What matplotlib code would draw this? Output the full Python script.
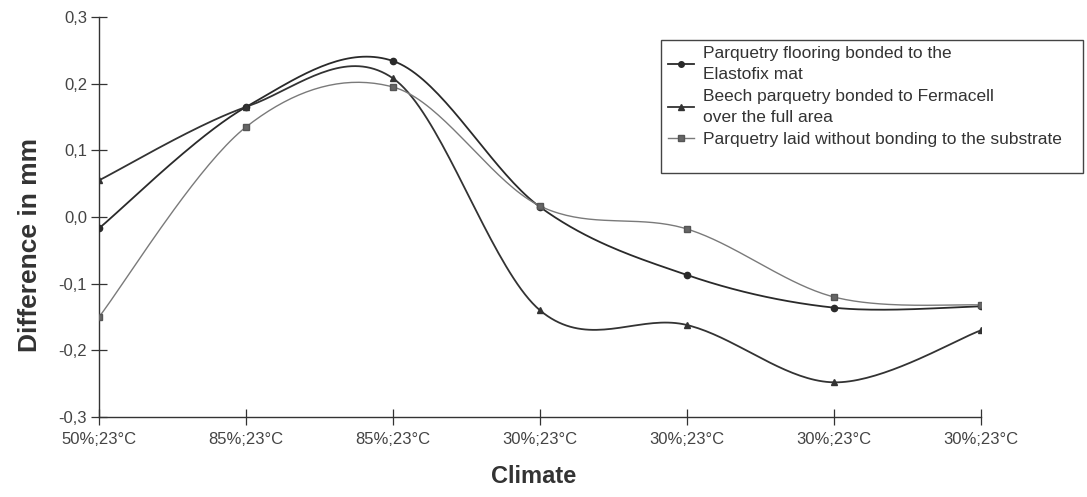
import numpy as np
import matplotlib
matplotlib.use("Agg")
import matplotlib.pyplot as plt
from matplotlib.patches import Rectangle

categories = ["50%;23°C", "85%;23°C", "85%;23°C", "30%;23°C", "30%;23°C", "30%;23°C", "30%;23°C"]
elastofix = [-0.017, 0.165, 0.234, 0.015, -0.087, -0.136, -0.134]
fermacell = [0.055, 0.165, 0.208, -0.14, -0.162, -0.248, -0.17]
unbonded = [-0.15, 0.135, 0.195, 0.0165, -0.018, -0.12, -0.132]
labels = ["Parquetry flooring bonded to the\nElastofix mat",
          "Beech parquetry bonded to Fermacell\nover the full area",
          "Parquetry laid without bonding to the substrate"]
yticks = [-0.3, -0.2, -0.1, 0.0, 0.1, 0.2, 0.3]

plt.rcParams['font.family'] = ['Liberation Sans', 'DejaVu Sans']


def smooth(xs, ys, n=40):
    # Excel-style smoothed line (Bezier with Catmull-Rom control points)
    P = np.column_stack([xs, ys]).astype(float)
    out = []
    m = len(P)
    for i in range(m - 1):
        p0 = P[i - 1] if i > 0 else P[i]
        p1 = P[i]
        p2 = P[i + 1]
        p3 = P[i + 2] if i + 2 < m else P[i + 1]
        c1 = p1 + (p2 - p0) / 6.0
        c2 = p2 - (p3 - p1) / 6.0
        t = np.linspace(0, 1, n)[:, None]
        seg = ((1 - t) ** 3) * p1 + 3 * ((1 - t) ** 2) * t * c1 + 3 * (1 - t) * t ** 2 * c2 + t ** 3 * p2
        out.append(seg if i == 0 else seg[1:])
    s = np.vstack(out)
    return s[:, 0], s[:, 1]


W, H = 1087, 497
fig = plt.figure(figsize=(W / 100, H / 100), dpi=100)
ax = fig.add_axes([99 / W, 1 - 417 / H, (981 - 99) / W, 400 / H])
x = np.arange(len(categories))

series = [
    (elastofix, 'o', '#2a2a2a', 1.3, 4.5, '#2a2a2a', '#2a2a2a'),
    (fermacell, '^', '#333333', 1.3, 5, '#333333', '#333333'),
    (unbonded, 's', '#7a7a7a', 1.0, 4.5, '#555555', '#666666'),
]
handles = []
for (vals, mk, col, lw, ms, mec, mfc), lab in zip(series, labels):
    sx, sy = smooth(x, vals)
    ax.plot(sx, sy, color=col, lw=lw, zorder=2)
    ax.plot(x, vals, linestyle='none', marker=mk, markersize=ms, zorder=3,
            markerfacecolor=mfc, markeredgecolor=mec)
    h, = ax.plot([], [], color=col, lw=lw, marker=mk, markersize=ms - 0.5,
                 markerfacecolor=mfc, markeredgecolor=mec)
    handles.append(h)

ax.set_xlim(0, len(categories) - 1)
ax.set_ylim(-0.3, 0.3)
ax.set_xticks(x)
ax.set_xticklabels(categories, fontsize=12, color='#444444')
ax.set_yticks(yticks)
ax.set_yticklabels([f"{v:.1f}".replace('.', ',') for v in yticks], fontsize=12,
                   color='#444444')
for s in ['top', 'right']:
    ax.spines[s].set_visible(False)
for s in ['left', 'bottom']:
    ax.spines[s].set_color('#333333')
    ax.spines[s].set_linewidth(1.0)
ax.tick_params(axis='both', direction='inout', length=11, width=0.9, color='#333333')
ax.tick_params(axis='x', pad=5)
ax.tick_params(axis='y', pad=3)

ax.set_ylabel("Difference in mm", fontsize=19, fontweight='bold', color='#333333')
ax.yaxis.set_label_coords(-0.065, 0.43)
ax.set_xlabel("Climate", fontsize=17, fontweight='bold', color='#333333')
ax.xaxis.set_label_coords(0.493, -0.12)

fig.patches.append(Rectangle((661 / W, 1 - 173 / H), (1083 - 661) / W, 133 / H,
                             transform=fig.transFigure, fill=False,
                             edgecolor='#444444', linewidth=1.0))
leg = ax.legend(handles, labels, loc='upper left', bbox_to_anchor=(663 / W, 1 - 41 / H),
                bbox_transform=fig.transFigure, frameon=False,
                fontsize=12.5, handlelength=1.5, handletextpad=0.5, labelspacing=0.4,
                borderpad=0.3, borderaxespad=0)
for t in leg.get_texts():
    t.set_color('#333333')
    t.set_linespacing(1.5)

fig.savefig("out.png", dpi=100)
